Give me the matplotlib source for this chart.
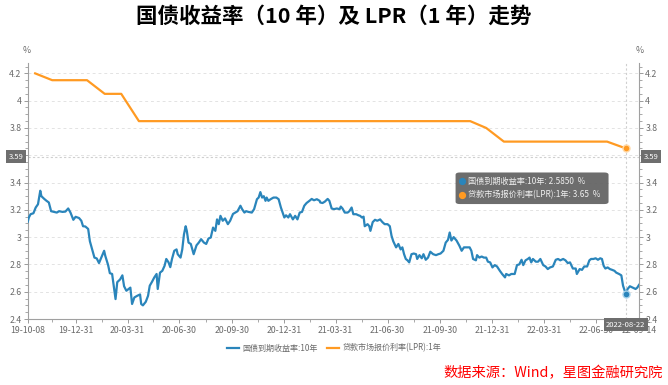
import numpy as np
import pandas as pd
import matplotlib
matplotlib.use('Agg')
import matplotlib.pyplot as plt
import matplotlib.dates as mdates
import matplotlib.transforms as mtransforms
from matplotlib.patches import FancyBboxPatch
from matplotlib.lines import Line2D
from matplotlib.ticker import MultipleLocator, FixedLocator, FuncFormatter

plt.rcParams['font.family'] = ['Noto Sans CJK SC', 'DejaVu Sans']

# ---------------- data ----------------
start_date = '2019-10-08'
# 10Y government bond yield: days since start_date, value (%)
yield_days = [0, 2, 5, 10, 14, 18, 22, 24, 29, 33, 37, 41, 46, 51, 55, 61, 66, 71, 75, 80,
              84, 90, 94, 97, 101, 106, 109, 113, 117, 121, 125, 129, 134, 136, 141, 144, 148, 152, 154, 157,
              162, 166, 169, 173, 177, 180, 183, 187, 192, 197, 199, 202, 207, 211, 214, 218, 222, 226, 228, 232,
              236, 240, 243, 247, 250,
              253, 257, 261, 263, 268, 271, 274, 277, 279, 282, 286, 291, 296, 300, 304, 309, 313, 317, 321, 325,
              329, 332, 335, 338, 342, 346, 351, 355, 360, 364, 368, 373, 376, 380, 383, 387, 393, 397, 402, 405,
              408, 411, 414, 417, 419, 422, 426, 431, 436, 440, 444, 447, 450, 453, 457, 460, 465, 469, 473, 477,
              481, 485, 489, 494, 498, 502, 507, 512,
              513, 517, 521, 526, 529, 533, 537, 542, 547, 549, 552, 556, 561, 564, 568, 571, 576, 580, 583, 586,
              589, 591, 596, 599, 601, 605, 609, 613, 618, 622, 626, 631, 635, 638, 641, 646, 650, 654, 657, 660,
              663, 666, 669, 673, 677, 681, 683, 687, 691, 694, 698, 702, 706, 711, 716, 720, 724, 729, 733, 737,
              740, 743, 747, 752, 757, 761, 765, 769,
              775, 778, 781, 786, 788, 792, 796, 800, 804, 807, 811, 815, 819, 823, 828, 832, 837, 839, 844, 848,
              854, 858, 862, 866, 869, 873, 877, 880, 883, 886, 891, 895, 899, 904, 908, 912, 916, 921, 926, 930,
              934, 939, 943, 947, 951, 956, 961, 963, 968, 972, 976, 981, 985, 988, 992, 996, 1000, 1004, 1007, 1010,
              1013, 1017, 1021, 1025, 1029, 1032, 1037, 1041, 1044, 1047, 1049, 1052, 1056, 1061, 1066, 1069, 1072]
yield_vals = [3.112, 3.144, 3.168, 3.175, 3.217, 3.241, 3.34, 3.30, 3.28, 3.266, 3.254, 3.19, 3.185, 3.18, 3.19, 3.185, 3.187, 3.21, 3.18, 3.127,
              3.149, 3.14, 3.12, 3.08, 3.078, 3.06, 2.97, 2.91, 2.85, 2.844, 2.81, 2.85, 2.90, 2.863, 2.795, 2.736, 2.73, 2.61, 2.546, 2.67,
              2.69, 2.72, 2.64, 2.607, 2.62, 2.63, 2.51, 2.558, 2.57, 2.58, 2.51, 2.50, 2.526, 2.57, 2.644, 2.673, 2.705, 2.73, 2.62, 2.74,
              2.753, 2.79, 2.84, 2.815, 2.78,
              2.84, 2.90, 2.91, 2.875, 2.85, 2.91, 3.02, 3.08, 3.046, 2.96, 2.95, 2.875, 2.94, 2.96, 2.985, 2.96, 2.95, 2.99, 2.997, 3.07,
              3.046, 3.13, 3.095, 3.156, 3.12, 3.137, 3.095, 3.12, 3.17, 3.18, 3.19, 3.23, 3.205, 3.18, 3.19, 3.185, 3.18, 3.205, 3.278, 3.29,
              3.33, 3.29, 3.30, 3.266, 3.29, 3.266, 3.278, 3.29, 3.29, 3.278, 3.217, 3.18, 3.144, 3.16, 3.144, 3.168, 3.13, 3.156, 3.13, 3.18,
              3.185, 3.23, 3.25, 3.266, 3.28, 3.27, 3.278, 3.266,
              3.254, 3.25, 3.26, 3.28, 3.266, 3.21, 3.205, 3.21, 3.205, 3.224, 3.21, 3.18, 3.18, 3.19, 3.217, 3.168, 3.168, 3.16, 3.156, 3.144,
              3.15, 3.08, 3.095, 3.08, 3.046, 3.11, 3.127, 3.12, 3.13, 3.11, 3.095, 3.095, 3.08, 3.01, 2.97, 2.925, 2.95, 2.91, 2.925, 2.875,
              2.84, 2.83, 2.815, 2.875, 2.88, 2.875, 2.84, 2.868, 2.845, 2.875, 2.834, 2.85, 2.893, 2.875, 2.868, 2.875, 2.88, 2.90, 2.96, 2.98,
              3.034, 2.975, 3.0, 2.975, 2.937, 2.90, 2.925, 2.925,
              2.925, 2.90, 2.84, 2.83, 2.868, 2.85, 2.858, 2.85, 2.85, 2.82, 2.815, 2.778, 2.795, 2.785, 2.753, 2.73, 2.705, 2.73, 2.72, 2.73,
              2.73, 2.795, 2.80, 2.834, 2.795, 2.83, 2.84, 2.85, 2.815, 2.84, 2.82, 2.82, 2.84, 2.795, 2.785, 2.766, 2.778, 2.785, 2.834, 2.84,
              2.83, 2.84, 2.83, 2.81, 2.815, 2.77, 2.77, 2.73, 2.766, 2.76, 2.785, 2.785, 2.83, 2.84, 2.84, 2.845, 2.834, 2.845, 2.84, 2.79,
              2.77, 2.778, 2.766, 2.76, 2.753, 2.74, 2.73, 2.72, 2.644, 2.607, 2.585, 2.62, 2.64, 2.63, 2.62, 2.63, 2.65]

# 1Y LPR (monthly fixings)
lpr_dates = ['2019-10-21', '2019-11-20', '2019-12-20', '2020-01-20', '2020-02-20', '2020-03-20',
             '2020-04-20', '2020-05-20', '2020-06-22', '2020-07-20', '2020-08-20', '2020-09-21',
             '2020-10-20', '2020-11-20', '2020-12-21', '2021-01-20', '2021-02-20', '2021-03-22',
             '2021-04-20', '2021-05-20', '2021-06-21', '2021-07-20', '2021-08-20', '2021-09-22',
             '2021-10-20', '2021-11-22', '2021-12-20', '2022-01-20', '2022-02-21', '2022-03-21',
             '2022-04-20', '2022-05-20', '2022-06-20', '2022-07-20', '2022-08-22']
lpr_vals = [4.20, 4.15, 4.15, 4.15, 4.05, 4.05,
            3.85, 3.85, 3.85, 3.85, 3.85, 3.85,
            3.85, 3.85, 3.85, 3.85, 3.85, 3.85,
            3.85, 3.85, 3.85, 3.85, 3.85, 3.85,
            3.85, 3.85, 3.80, 3.70, 3.70, 3.70,
            3.70, 3.70, 3.70, 3.70, 3.65]

x_tick_dates = ['2019-10-08', '2019-12-31', '2020-03-31', '2020-06-30', '2020-09-30', '2020-12-31',
                '2021-03-31', '2021-06-30', '2021-09-30', '2021-12-31', '2022-03-31', '2022-06-30', '2022-09-14']
y_ticks = [2.4, 2.6, 2.8, 3.0, 3.2, 3.4, 3.6, 3.8, 4.0, 4.2]

series_names = ['国债到期收益率:10年', '贷款市场报价利率(LPR):1年']
cursor_date = '2022-08-22'
cursor_level = 3.59
tip_yield = 2.5850
tip_lpr = 3.65

title = '国债收益率（10 年）及 LPR（1 年）走势'
source = '数据来源：Wind，星图金融研究院'

# ---------------- plot ----------------
BLUE = '#2a85bb'
ORANGE = '#ff9a22'
GRAY = '#6e6e6e'
TXT = '#6a6a6a'

t0 = pd.Timestamp(start_date)
ydates = t0 + pd.to_timedelta(yield_days, unit='D')
ldates = pd.to_datetime(lpr_dates)
cur = pd.Timestamp(cursor_date)
xmin = t0
xmax = t0 + pd.Timedelta(days=max(yield_days))

fig = plt.figure(figsize=(6.68, 3.85), dpi=100)
ax = fig.add_axes([0.0415, 0.1714, 0.9151, 0.6646])

ax.plot(ydates, yield_vals, color=BLUE, lw=1.6, zorder=3, solid_joinstyle='round')
ax.plot(ldates, lpr_vals, color=ORANGE, lw=1.6, zorder=3)

ax.set_xlim(xmin, xmax)
ax.set_ylim(2.4, 4.275)

# grid
for v in y_ticks:
    ax.axhline(v, color='#e3e3e3', lw=0.7, ls=(0, (3, 3)), zorder=1)

# crosshair
ax.axvline(cur, color='#cfcfcf', lw=0.8, ls=(0, (2, 2)), zorder=2)
ax.axhline(cursor_level, color='#cfcfcf', lw=0.8, ls=(0, (2, 2)), zorder=2)

# markers at cursor
ax.plot([cur], [tip_lpr], 'o', ms=5, mfc=ORANGE, mec='#ffd9a8', mew=1, zorder=5)
ax.plot([cur], [tip_yield], 'o', ms=5, mfc=BLUE, mec='#a9d2ea', mew=1, zorder=5)

# spines
ax.spines['top'].set_visible(False)
for s in ['left', 'right', 'bottom']:
    ax.spines[s].set_color('#a0a0a0')
    ax.spines[s].set_linewidth(0.8)

# y axis ticks both sides
fmt = FuncFormatter(lambda v, p: ('%g' % round(v, 2)) if abs(v - 3.6) > 1e-6 else '')
ax.yaxis.set_major_locator(FixedLocator(y_ticks))
ax.yaxis.set_minor_locator(MultipleLocator(0.05))
ax.yaxis.set_major_formatter(fmt)
ax.tick_params(axis='y', which='both', left=True, right=True, labelleft=True, labelright=True,
               direction='out', colors='#9a9a9a', labelcolor=TXT, labelsize=6.3, pad=1.5)
ax.tick_params(axis='y', which='major', length=3, width=0.7)
ax.tick_params(axis='y', which='minor', length=2, width=0.6)

# x axis ticks
ax.xaxis.set_major_locator(FixedLocator(mdates.date2num(pd.to_datetime(x_tick_dates))))
ax.xaxis.set_major_formatter(mdates.DateFormatter('%y-%m-%d'))
mids = pd.to_datetime(x_tick_dates[:-1]) + (pd.to_datetime(x_tick_dates[1:]) - pd.to_datetime(x_tick_dates[:-1])) / 2
ax.xaxis.set_minor_locator(FixedLocator(mdates.date2num(mids)))
ax.tick_params(axis='x', which='both', direction='out', colors='#9a9a9a', labelcolor=TXT, labelsize=6.3, pad=2)
ax.tick_params(axis='x', which='major', length=3, width=0.7)
ax.tick_params(axis='x', which='minor', length=2, width=0.6)

# % unit labels
fig.text(0.0405, 0.870, '%', fontsize=6.3, color=TXT, ha='center', va='center')
fig.text(0.958, 0.870, '%', fontsize=6.3, color=TXT, ha='center', va='center')

# axis pointer labels (3.59)
trans_l = mtransforms.blended_transform_factory(ax.transAxes, ax.transData)
box_kw = dict(boxstyle='square,pad=0.35', fc=GRAY, ec='none')
ax.text(-0.0075, cursor_level, '%.2f' % cursor_level, transform=trans_l, ha='right', va='center',
        fontsize=5.5, color='white', bbox=box_kw, zorder=10, clip_on=False)
ax.text(1.0075, cursor_level, '%.2f' % cursor_level, transform=trans_l, ha='left', va='center',
        fontsize=5.5, color='white', bbox=box_kw, zorder=10, clip_on=False)
trans_b = mtransforms.blended_transform_factory(ax.transData, ax.transAxes)
ax.text(mdates.date2num(cur), -0.022, cur.strftime('%Y-%m-%d'), transform=trans_b, ha='center', va='center',
        fontsize=5.5, color='white', bbox=dict(boxstyle='square,pad=0.35', fc=GRAY, ec='none'),
        zorder=10, clip_on=False)

# tooltip
tip = FancyBboxPatch((0.682, 0.470), 0.229, 0.082, boxstyle='round,pad=0.0,rounding_size=0.006',
                     transform=fig.transFigure, fc='#626262', ec='none', alpha=0.93, zorder=20)
fig.patches.append(tip)
fig.add_artist(Line2D([0.691], [0.530], marker='o', ms=4.2, color=BLUE, transform=fig.transFigure, zorder=21))
fig.add_artist(Line2D([0.691], [0.494], marker='o', ms=4.2, color=ORANGE, transform=fig.transFigure, zorder=21))
fig.text(0.700, 0.530, '%s: %.4f  %%' % (series_names[0], tip_yield), fontsize=5.9, color='#f0f0f0',
         ha='left', va='center', zorder=22)
fig.text(0.700, 0.494, '%s: %.2f  %%' % (series_names[1], tip_lpr), fontsize=5.9, color='#f0f0f0',
         ha='left', va='center', zorder=22)

# legend
handles = [Line2D([], [], color=BLUE, lw=1.6), Line2D([], [], color=ORANGE, lw=1.6)]
fig.legend(handles, series_names, loc='center', bbox_to_anchor=(0.5, 0.096), ncol=2, frameon=False,
           fontsize=5.8, handlelength=1.5, handletextpad=0.4, columnspacing=1.2, labelcolor=TXT)

# title and source
fig.text(0.5, 0.958, title, fontsize=15.5, fontweight='bold', color='black', ha='center', va='center')
fig.text(0.9925, 0.031, source, fontsize=10.3, color='#ff0000', ha='right', va='center', style='italic')

fig.savefig('out.png', dpi=100)
